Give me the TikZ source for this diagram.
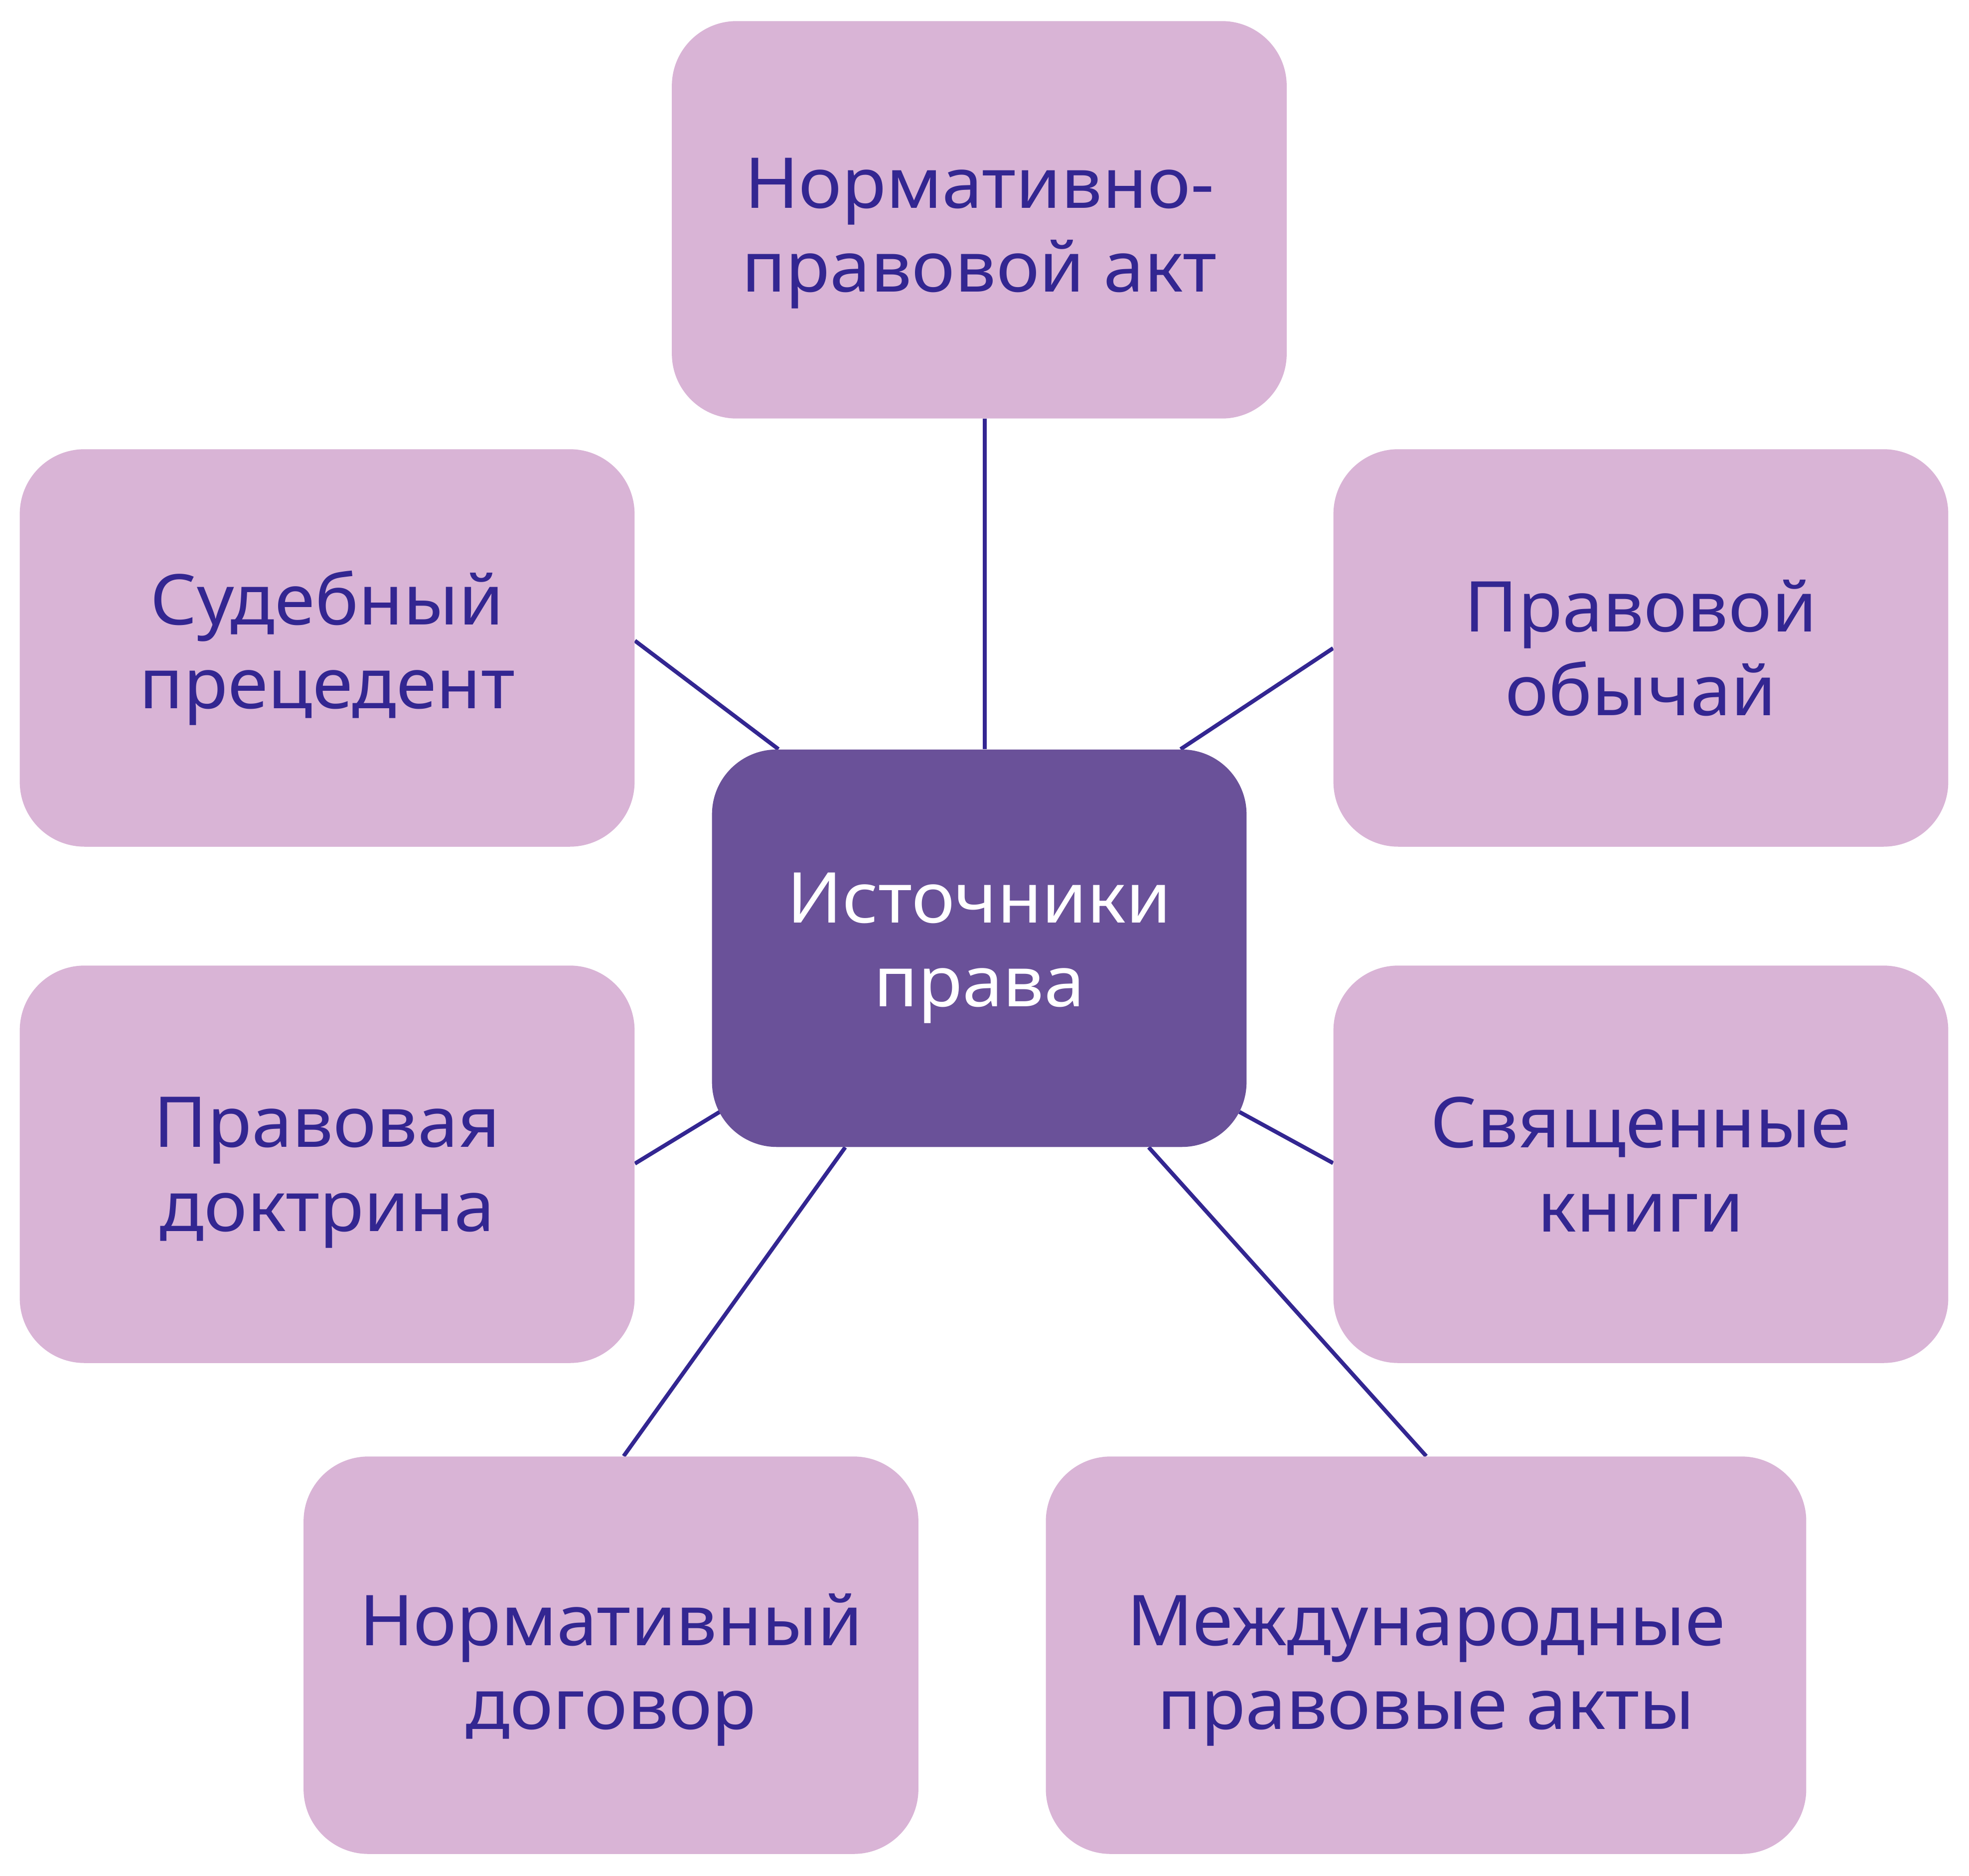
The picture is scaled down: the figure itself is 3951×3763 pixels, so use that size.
\documentclass[tikz,border=0pt]{standalone}
\usepackage{fontspec}
\setmainfont[FakeStretch=1.04]{Noto Sans}
\usetikzlibrary{calc,backgrounds}
\definecolor{boxpink}{HTML}{D9B4D6}
\definecolor{boxdark}{HTML}{6A5199}
\definecolor{inkblue}{HTML}{332691}
\newcommand{\lowertext}[1]{\rule{0pt}{#1}}
\tikzset{
  srcbox/.style={rectangle, rounded corners=1.3cm, fill=boxpink, text=inkblue,
    minimum width=12.33cm, minimum height=7.97cm, inner sep=0pt, align=center,
    font=\fontsize{40}{47.8}\selectfont},
  mainbox/.style={srcbox, fill=boxdark, text=white, minimum width=10.72cm},
  link/.style={draw=inkblue, line width=0.08cm}
}
\begin{document}
\begin{tikzpicture}[x=0.01cm, y=-0.01cm]
\useasboundingbox (0,0) rectangle (3951,3763);
\node[srcbox] (t) at (1965,441) {\lowertext{44pt}Нормативно-\\правовой акт};
\node[mainbox] (c) at (1965,1902.5) {Источники\\права};
\node[srcbox] (lu) at (656.5,1300) {Судебный\\прецедент};
\node[srcbox] (ru) at (3292.5,1300) {Правовой\\обычай};
\node[srcbox] (ll) at (656.5,2336) {\lowertext{38pt}Правовая\\доктрина};
\node[srcbox] (rl) at (3292.5,2336) {Священные\\книги};
\node[srcbox] (bl) at (1226,3321) {\lowertext{46pt}Нормативный\\договор};
\node[srcbox, minimum width=15.25cm] (br) at (2861.5,3321) {\lowertext{46pt}Международные\\правовые акты};
\begin{scope}[on background layer]
\draw[link] ($(t.south)+(11,0)$) -- ($(c.north)+(11,0)$);
\draw[link] ($(lu.north east)+(0,385)$) -- ($(c.north west)+(134,0)$);
\draw[link] ($(ru.north west)+(0,400)$) -- ($(c.north east)+(-133,0)$);
\draw[link] ($(ll.north east)+(0,398)$) -- ($(c.south west)+(16,-71)$);
\draw[link] ($(rl.north west)+(0,397)$) -- ($(c.south east)+(-15,-71)$);
\draw[link] ($(bl.north west)+(643,0)$) -- ($(c.south west)+(268,0)$);
\draw[link] ($(br.north west)+(764,0)$) -- ($(c.south west)+(877,0)$);
\end{scope}
\end{tikzpicture}
\end{document}
